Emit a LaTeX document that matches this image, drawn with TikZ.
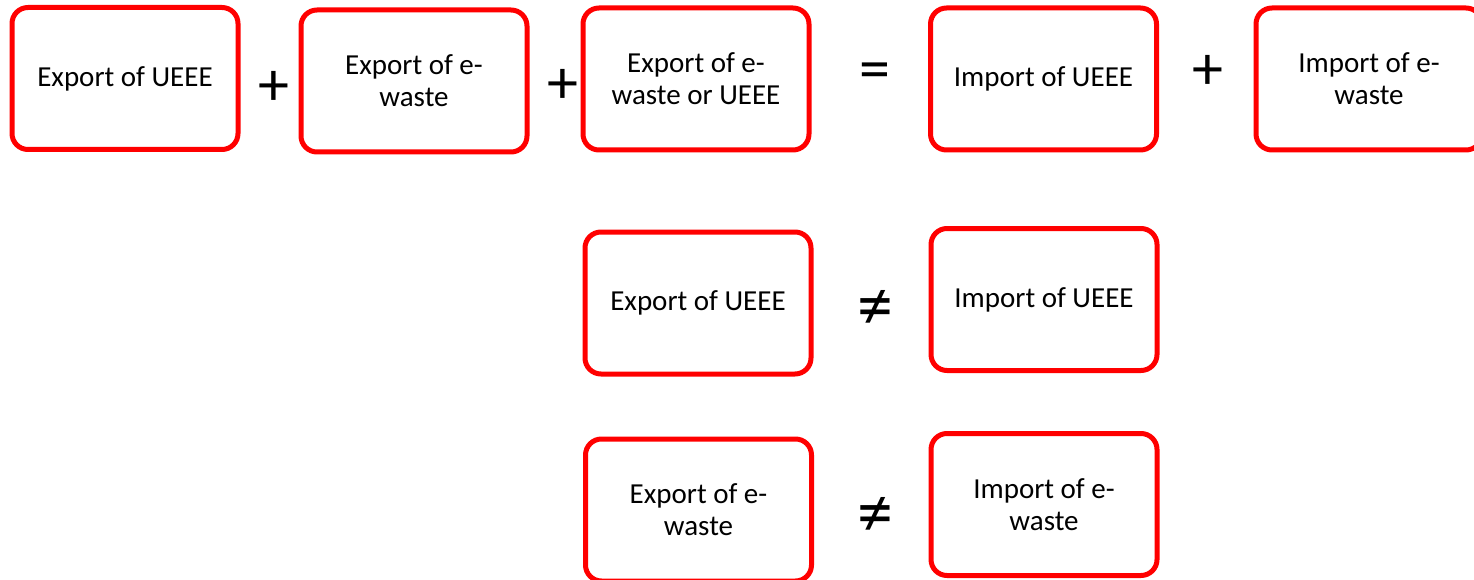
\documentclass[tikz,border=0pt]{standalone}
\usepackage{fontspec}
\setmainfont{Carlito}
\begin{document}
\begin{tikzpicture}[x=1pt,y=-1pt,
  box/.style={draw=red, fill=white, line width=5pt, rounded corners=16pt,
    minimum width=226pt, minimum height=142pt, align=center,
    font=\fontsize{29}{32}\selectfont, inner sep=0pt},
  op/.style={font=\fontsize{62}{66}\selectfont, inner sep=0pt},
  neq/.style={font=\fontsize{72}{76}\selectfont, inner sep=0pt}]
\useasboundingbox (0,0) rectangle (1474,580);
% row 1
\node[box] (b1) at (125,78.5) {Export of UEEE};
\node[box] (b2) at (414,81) {Export of e-\\waste};
\node[box] (b3) at (696,79) {Export of e-\\waste or UEEE};
\node[box] (b4) at (1043.5,79) {Import of UEEE};
\node[box] (b5) at (1369,79) {Import of e-\\waste};
\node[op] (p1) at (274,88) {+};
\node[op] (p2) at (563,86) {+};
\node[op] (eq) at (875,76) {=};
\node[op] (p3) at (1208,72) {+};
% row 2
\node[box] (b6) at (698,303) {Export of UEEE};
\node[box] (b7) at (1044,299.5) {Import of UEEE};
\node[neq] (ne1) at (875,310) {≠};
% row 3
\node[box] (b8) at (698.5,510) {Export of e-\\waste};
\node[box] (b9) at (1044,504.5) {Import of e-\\waste};
\node[neq] (ne2) at (875,517) {≠};
\end{tikzpicture}
\end{document}
